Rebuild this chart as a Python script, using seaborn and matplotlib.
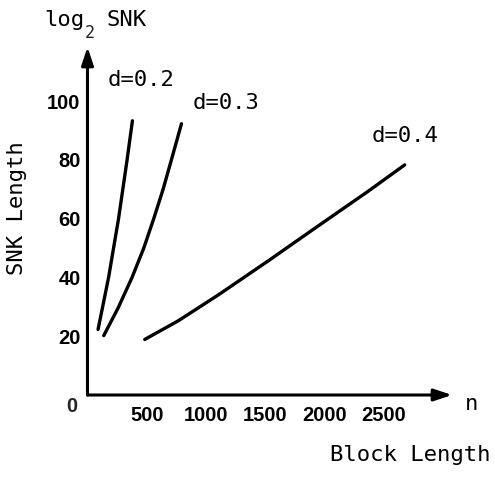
"""SNK length against block length for three values of d."""

import matplotlib.pyplot as plt
import pandas as pd
import seaborn as sns

# values
n_d02 = [89, 178, 262, 334, 379]
snk_d02 = [22.3, 40, 60, 80, 93.3]

n_d03 = [137, 258, 376, 475, 559, 638, 708, 793]
snk_d03 = [20.2, 29.6, 40, 50, 60, 70, 80, 92.3]

n_d04 = [483, 764, 1102, 1524, 1946, 2368, 2677]
snk_d04 = [18.9, 25.2, 34.0, 45.6, 57.5, 69.3, 78.3]

x_ticks = [500, 1000, 1500, 2000, 2500]
y_ticks = [20, 40, 60, 80, 100]

W, H = 495, 478


def fig_xy(px, py):
    return px / W, 1 - py / H


def plot_snk():
    sns.set_theme(style="white")
    df = pd.concat([
        pd.DataFrame({"n": n_d02, "snk": snk_d02, "d": "0.2"}),
        pd.DataFrame({"n": n_d03, "snk": snk_d03, "d": "0.3"}),
        pd.DataFrame({"n": n_d04, "snk": snk_d04, "d": "0.4"}),
    ])

    fig = plt.figure(figsize=(W / 100, H / 100), dpi=100)
    ax = fig.add_axes([87.5 / W, 1 - 395 / H, (452 - 87.5) / W, (395 - 47) / H])

    sns.lineplot(data=df, x="n", y="snk", hue="d", units="d", estimator=None,
                 palette=["black"] * 3, linewidth=2.4, legend=False, ax=ax,
                 sort=False)
    for line in ax.lines:
        line.set_solid_joinstyle("round")
        line.set_solid_capstyle("round")

    ax.set_xlim(0, 3076)
    ax.set_ylim(0, 118.4)
    for s in ax.spines.values():
        s.set_visible(False)

    # axes as arrows
    arrow = dict(arrowstyle="-|>,head_length=0.6,head_width=0.2", color="black",
                 lw=2.2, mutation_scale=18, shrinkA=0, shrinkB=0)
    ax.annotate("", xy=(0, 1), xytext=(0, 0), xycoords="axes fraction",
                arrowprops=arrow, annotation_clip=False)
    ax.annotate("", xy=(1, 0), xytext=(0, 0), xycoords="axes fraction",
                arrowprops=arrow, annotation_clip=False)

    ax.set_xticks(x_ticks)
    ax.set_yticks(y_ticks)
    ax.tick_params(direction="in", length=4, width=2, color="black")
    ax.tick_params(axis="x", pad=8)
    ax.tick_params(axis="y", pad=5)
    for lab in ax.get_xticklabels() + ax.get_yticklabels():
        lab.set_fontfamily("Liberation Sans")
        lab.set_fontweight("bold")
        lab.set_fontsize(14.5)
        lab.set_color("black")
    ax.set_xlabel("")
    ax.set_ylabel("")

    mono = dict(family="DejaVu Sans Mono", fontsize=16, color="black")
    fig.text(*fig_xy(72, 407), "0", family="Liberation Sans", weight="bold",
             fontsize=14.5, ha="center", va="center")
    fig.text(*fig_xy(472, 404), "n", ha="center", va="center", **mono)
    fig.text(*fig_xy(491, 455), "Block Length", ha="right", va="center", **mono)
    fig.text(*fig_xy(17, 208), "SNK Length", rotation=90, ha="center",
             va="center", **mono)
    fig.text(*fig_xy(44, 20), "log", ha="left", va="center", **mono)
    fig.text(*fig_xy(90, 33), "2", ha="center", va="center",
             family="DejaVu Sans Mono", fontsize=12)
    fig.text(*fig_xy(107, 20), "SNK", ha="left", va="center", **mono)

    fig.text(*fig_xy(141, 80), "d=0.2", ha="center", va="center", **mono)
    fig.text(*fig_xy(226, 103), "d=0.3", ha="center", va="center", **mono)
    fig.text(*fig_xy(405, 136), "d=0.4", ha="center", va="center", **mono)

    fig.savefig("out.png", dpi=100)


if __name__ == "__main__":
    plot_snk()
